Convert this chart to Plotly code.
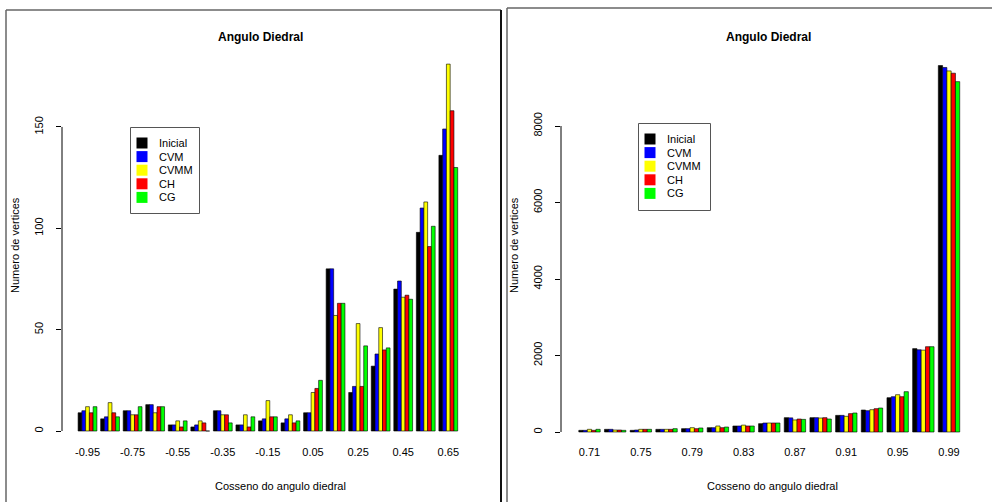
import plotly.graph_objects as go

# ---------------- data ----------------
series_names = ["Inicial", "CVM", "CVMM", "CH", "CG"]
series_colors = ["#000000", "#0000FF", "#FFFF00", "#FF0000", "#00FF00"]

left_cats = ["-0.95", "-0.85", "-0.75", "-0.65", "-0.55", "-0.45", "-0.35", "-0.25", "-0.15",
             "-0.05", "0.05", "0.15", "0.25", "0.35", "0.45", "0.55", "0.65"]
left_inicial = [9, 6, 10, 13, 3, 2, 10, 3, 5, 4, 9, 80, 19, 32, 70, 98, 136]
left_cvm = [10, 7, 10, 13, 3, 3, 10, 3, 6, 6, 9, 80, 22, 38, 74, 110, 149]
left_cvmm = [12, 14, 8, 9, 5, 5, 8, 8, 15, 8, 19, 57, 53, 51, 66, 113, 181]
left_ch = [9, 9, 8, 12, 2, 4, 8, 2, 7, 4, 21, 63, 22, 40, 67, 91, 158]
left_cg = [12, 7, 12, 12, 5, 0, 4, 7, 7, 5, 25, 63, 42, 41, 65, 101, 130]
left_yticks = [0, 50, 100, 150]

right_cats = ["0.71", "0.73", "0.75", "0.77", "0.79", "0.81", "0.83", "0.85",
              "0.87", "0.89", "0.91", "0.93", "0.95", "0.97", "0.99"]
right_inicial = [44, 70, 44, 70, 87, 113, 157, 218, 375, 375, 435, 575, 897, 2180, 9580]
right_cvm = [44, 70, 52, 70, 87, 113, 157, 235, 370, 375, 435, 557, 923, 2150, 9530]
right_cvmm = [70, 52, 70, 70, 113, 157, 180, 235, 315, 366, 410, 583, 975, 2140, 9440]
right_ch = [44, 52, 70, 70, 87, 113, 157, 235, 340, 375, 480, 610, 923, 2230, 9380]
right_cg = [70, 44, 70, 87, 105, 130, 157, 235, 330, 340, 497, 627, 1054, 2230, 9160]
right_yticks = [0, 2000, 4000, 6000, 8000]

title_text = "Angulo Diedral"
xlabel_text = "Cosseno do angulo diedral"
ylabel_text = "Numero de vertices"

# ---------------- figure ----------------
W, H = 992, 502
FONT = "Liberation Sans, Arial, Helvetica, sans-serif"


def px(x):
    return x / W


def py(y):
    return 1 - y / H


fig = go.Figure()

left_vals = [left_inicial, left_cvm, left_cvmm, left_ch, left_cg]
right_vals = [right_inicial, right_cvm, right_cvmm, right_ch, right_cg]

for name, col, vals in zip(series_names, series_colors, left_vals):
    fig.add_trace(go.Bar(x=left_cats, y=vals, name=name, marker_color=col,
                         marker_line_color="#000000", marker_line_width=0.6,
                         xaxis="x", yaxis="y", showlegend=False))
for name, col, vals in zip(series_names, series_colors, right_vals):
    fig.add_trace(go.Bar(x=right_cats, y=vals, name=name, marker_color=col,
                         marker_line_color="#000000", marker_line_width=0.6,
                         xaxis="x2", yaxis="y2", showlegend=False))

# geometry (pixels)
L_axis, L_right = 62, 478
L_c0, L_step = 87.5, 22.55
L_zero, L_ppu = 431, 2.027
R_axis, R_right = 561, 985
R_c0, R_step = 589.5, 25.68
R_zero, R_ppu = 432, 0.03825
top_px, bot_px = 50, 442

axis_common = dict(showgrid=False, zeroline=False, showline=False,
                   tickfont=dict(family=FONT, size=11, color="#000000"))

fig.update_layout(
    width=W, height=H,
    margin=dict(l=0, r=0, t=0, b=0),
    paper_bgcolor="white", plot_bgcolor="white",
    barmode="group", bargap=1 / 6, bargroupgap=0,
    showlegend=False,
    font=dict(family=FONT, color="#000000"),
    xaxis=dict(domain=[px(L_axis), px(L_right)], anchor="y",
               type="category",
               range=[-(L_c0 - L_axis) / L_step, (L_right - L_c0) / L_step],
               tickmode="array", tickvals=left_cats[::2], ticktext=left_cats[::2],
               ticks="", ticklabelstandoff=2, **axis_common),
    yaxis=dict(domain=[py(bot_px), py(top_px)], anchor="x",
               range=[-(bot_px - L_zero) / L_ppu, (L_zero - top_px) / L_ppu],
               tickmode="array", tickvals=left_yticks,
               ticks="outside", ticklen=5, tickcolor="#000000", tickwidth=1,
               tickangle=-90, ticklabelstandoff=9, **axis_common),
    xaxis2=dict(domain=[px(R_axis), px(R_right)], anchor="y2",
                type="category",
                range=[-(R_c0 - R_axis) / R_step, (R_right - R_c0) / R_step],
                tickmode="array", tickvals=right_cats[::2], ticktext=right_cats[::2],
                ticks="", ticklabelstandoff=2, **axis_common),
    yaxis2=dict(domain=[py(bot_px), py(top_px)], anchor="x2",
                range=[-(bot_px - R_zero) / R_ppu, (R_zero - top_px) / R_ppu],
                tickmode="array", tickvals=right_yticks,
                ticks="outside", ticklen=5, tickcolor="#000000", tickwidth=1,
                tickangle=-90, ticklabelstandoff=9, **axis_common),
)

# y axis lines spanning the tick range (R style)
fig.add_shape(type="line", xref="x domain", yref="y", x0=0, x1=0,
              y0=left_yticks[0], y1=left_yticks[-1], line=dict(color="#000000", width=1))
fig.add_shape(type="line", xref="x2 domain", yref="y2", x0=0, x1=0,
              y0=right_yticks[0], y1=right_yticks[-1], line=dict(color="#000000", width=1))

# panel borders
border = "#666666"
fig.add_shape(type="line", xref="paper", yref="paper", x0=px(6), x1=px(501), y0=py(10), y1=py(10),
              line=dict(color=border, width=1.5))
fig.add_shape(type="line", xref="paper", yref="paper", x0=px(6), x1=px(6), y0=py(10), y1=0,
              line=dict(color=border, width=1.5))
fig.add_shape(type="line", xref="paper", yref="paper", x0=px(501), x1=px(501), y0=py(10), y1=0,
              line=dict(color="#111111", width=2))
fig.add_shape(type="line", xref="paper", yref="paper", x0=px(507), x1=1, y0=py(8), y1=py(8),
              line=dict(color=border, width=1.5))
fig.add_shape(type="line", xref="paper", yref="paper", x0=px(507), x1=px(507), y0=py(8), y1=0,
              line=dict(color=border, width=1.5))

# legends (R style boxes)
for bx, by, bw, bh in [(130.5, 127.5, 69, 86), (638.5, 123.5, 72, 87)]:
    fig.add_shape(type="rect", xref="paper", yref="paper",
                  x0=px(bx), x1=px(bx + bw), y0=py(by), y1=py(by + bh),
                  line=dict(color="#555555", width=1), fillcolor="white")
    for i, (name, col) in enumerate(zip(series_names, series_colors)):
        cy = by + 15.5 + i * 13.6
        fig.add_shape(type="rect", xref="paper", yref="paper",
                      x0=px(bx + 6), x1=px(bx + 17), y0=py(cy - 5.5), y1=py(cy + 5.5),
                      line=dict(width=0), fillcolor=col)
        fig.add_annotation(x=px(bx + 26), y=py(cy), xref="paper", yref="paper", text=name,
                           xanchor="left", yanchor="middle", showarrow=False,
                           font=dict(family=FONT, size=11, color="#000000"))

# titles and axis labels
for cx in [260, 768]:
    fig.add_annotation(x=px(cx), y=py(37), xref="paper", yref="paper",
                       text="<b>" + title_text + "</b>", xanchor="center", yanchor="middle",
                       showarrow=False, font=dict(family=FONT, size=12, color="#000000"))
for cx in [280, 772]:
    fig.add_annotation(x=px(cx), y=py(486), xref="paper", yref="paper", text=xlabel_text,
                       xanchor="center", yanchor="middle",
                       showarrow=False, font=dict(family=FONT, size=11, color="#000000"))
for cx in [15, 514]:
    fig.add_annotation(x=px(cx), y=py(245), xref="paper", yref="paper", text=ylabel_text,
                       xanchor="center", yanchor="middle",
                       textangle=-90, showarrow=False, font=dict(family=FONT, size=11, color="#000000"))

fig.write_html("out.html",
               config={"displayModeBar": False},
               post_script="document.body.style.margin='0px';document.body.style.padding='0px';"
                           "document.documentElement.style.overflow='hidden';")
